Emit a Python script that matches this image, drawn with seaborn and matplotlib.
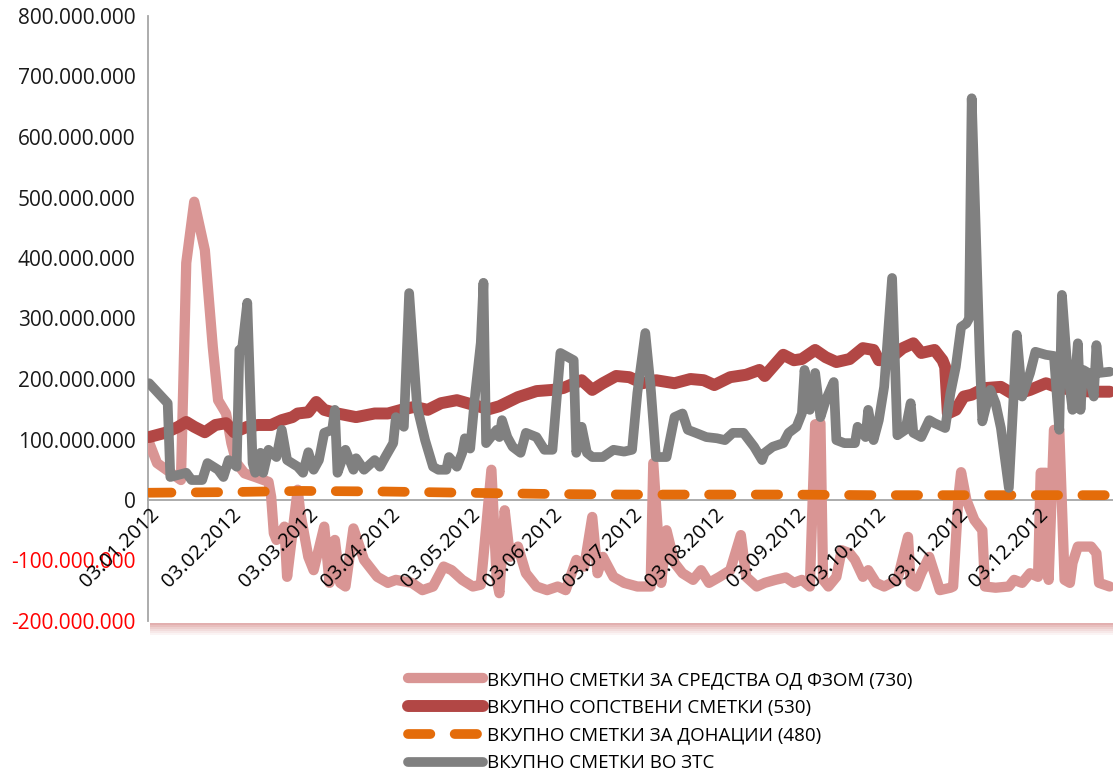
import matplotlib
matplotlib.use("Agg")
import matplotlib.pyplot as plt
from matplotlib.ticker import FuncFormatter, FixedLocator
from matplotlib.patches import Rectangle
import seaborn as sns
import pandas as pd

# ---------------- data (values in millions of denars) ----------------
fzom_dates = ["01-03","01-06","01-15","01-17","01-20","01-24","01-27","01-29","02-01","02-03",
              "02-05","02-08","02-12","02-17","02-18","02-19","02-20","02-23","02-24","02-28",
              "02-29","03-03","03-05","03-09","03-11","03-13","03-15","03-17","03-20","03-24",
              "03-29","04-02","04-05","04-11","04-15","04-19","04-23","04-26","04-30","05-04",
              "05-07","05-08","05-11","05-13","05-14","05-16","05-18","05-21","05-24","05-28",
              "06-01","06-05","06-08","06-12","06-15","06-18","06-20","06-22","06-26","06-30",
              "07-05","07-08","07-10","07-11","07-14","07-16","07-19","07-22","07-26","07-29",
              "08-01","08-05","08-09","08-13","08-15","08-19","08-22","08-26","08-30","09-02",
              "09-05","09-08","09-10","09-12","09-13","09-15","09-18","09-20","09-23","09-25",
              "09-28","09-30","10-03","10-06","10-11","10-15","10-16","10-18","10-20","10-23",
              "10-27","10-31","11-01","11-03","11-04","11-06","11-09","11-12","11-13","11-17",
              "11-22","11-24","11-27","11-30","12-03","12-04","12-06","12-07","12-09","12-11",
              "12-13","12-15","12-16","12-18","12-23","12-25","12-26","12-30"]
fzom_values = [95, 61, 33, 392, 493, 413, 253, 165, 143, 94,
               61, 44, 38, 30, 5, -55, -66, -44, -127, 17,
               -22, -94, -116, -44, -137, -66, -137, -143, -47, -99,
               -127, -137, -132, -137, -149, -143, -110, -116, -132, -143,
               -140, -94, 50, -132, -154, -17, -94, -77, -121, -143,
               -149, -143, -149, -99, -110, -28, -121, -94, -127, -137,
               -143, -143, -143, 61, -137, -50, -104, -121, -132, -116,
               -137, -127, -116, -58, -127, -143, -137, -132, -128, -137,
               -132, -143, 125, 127, -132, -143, -127, -83, -88, -99,
               -127, -116, -137, -143, -132, -61, -137, -143, -121, -94,
               -149, -145, -143, 5, 46, 0, -33, -50, -143, -145,
               -143, -132, -137, -121, -127, 45, 45, -132, 116, 116,
               -132, -137, -104, -77, -77, -88, -137, -143]

own_dates = ["01-03","01-09","01-14","01-17","01-20","01-24","01-28","02-01","02-04","02-09",
             "02-13","02-18","02-22","02-26","02-28","03-03","03-06","03-09","03-14","03-21",
             "03-28","04-02","04-07","04-12","04-17","04-22","04-28","05-02","05-06","05-10",
             "05-14","05-21","05-28","06-03","06-07","06-14","06-18","06-22","06-27","07-02",
             "07-07","07-12","07-19","07-25","07-30","08-03","08-09","08-15","08-20","08-22",
             "08-29","09-02","09-05","09-10","09-14","09-18","09-23","09-28","10-02","10-04",
             "10-08","10-13","10-17","10-20","10-25","10-28","10-29","10-30","11-02","11-05",
             "11-08","11-13","11-19","11-24","11-30","12-06","12-11","12-17","12-23","12-30"]
own_values = [104, 111, 121, 129, 121, 112, 124, 127, 112, 121,
              124, 124, 132, 137, 143, 145, 162, 149, 143, 137,
              143, 143, 149, 154, 149, 160, 165, 160, 155, 150,
              155, 170, 180, 182, 185, 198, 182, 193, 205, 203,
              193, 198, 193, 200, 198, 190, 203, 207, 215, 205,
              240, 231, 233, 248, 236, 228, 233, 251, 248, 231,
              233, 251, 259, 243, 248, 231, 220, 143, 149, 171,
              174, 185, 187, 174, 182, 193, 185, 182, 179, 179]

don_dates = ["01-03","02-01","03-01","04-01","05-01","06-01","07-01","08-01","09-01",
             "10-01","11-01","12-01","12-30"]
don_values = [12, 13, 15, 14, 12, 10, 9, 9, 9, 8, 8, 8, 8]

zts_dates = ["01-03","01-10","01-11","01-17","01-19","01-23","01-25","01-29","01-31","02-02",
             "02-05","02-06","02-07","02-09","02-11","02-12","02-14","02-15","02-17","02-20",
             "02-22","02-24","02-28","03-01","03-03","03-05","03-07","03-09","03-12","03-13",
             "03-14","03-17","03-20","03-21","03-24","03-28","03-30","04-01","04-04","04-05",
             "04-08","04-10","04-13","04-16","04-19","04-21","04-24","04-25","04-28","04-30",
             "05-01","05-03","05-05","05-07","05-08","05-09","05-13","05-14","05-15","05-17",
             "05-19","05-22","05-24","05-28","05-31","06-03","06-06","06-11","06-12","06-14",
             "06-16","06-18","06-22","06-26","06-30","07-03","07-05","07-08","07-10","07-12",
             "07-16","07-19","07-22","07-24","07-27","07-31","08-04","08-07","08-10","08-14",
             "08-18","08-21","08-22","08-25","08-29","08-31","09-03","09-05","09-06","09-08",
             "09-10","09-12","09-14","09-17","09-18","09-21","09-25","09-26","09-29","09-30",
             "10-02","10-04","10-06","10-09","10-11","10-14","10-16","10-17","10-20","10-23",
             "10-25","10-29","10-31","11-02","11-04","11-06","11-07","11-08","11-11","11-12",
             "11-15","11-17","11-19","11-22","11-25","11-27","11-30","12-02","12-06","12-09",
             "12-11","12-12","12-14","12-16","12-18","12-19","12-20","12-22","12-24","12-25",
             "12-26","12-30"]
zts_values = [193, 160, 38, 45, 33, 33, 61, 50, 38, 66,
              55, 248, 248, 326, 61, 45, 78, 45, 83, 71,
              116, 66, 55, 45, 79, 50, 66, 111, 116, 149,
              45, 83, 50, 69, 50, 66, 55, 71, 94, 137,
              121, 342, 154, 99, 55, 50, 50, 71, 55, 78,
              102, 85, 180, 260, 359, 94, 116, 104, 132, 104,
              88, 78, 111, 104, 83, 83, 243, 231, 78, 121,
              78, 71, 71, 83, 80, 83, 177, 276, 187, 71,
              71, 137, 143, 116, 111, 104, 102, 99, 111, 111,
              88, 66, 78, 88, 94, 111, 121, 143, 215, 149,
              210, 137, 165, 195, 99, 94, 94, 121, 104, 149,
              99, 132, 187, 367, 107, 116, 160, 111, 104, 132,
              127, 119, 177, 220, 286, 292, 300, 664, 240, 130,
              182, 160, 119, 20, 273, 171, 210, 245, 240, 238,
              116, 339, 220, 149, 259, 149, 215, 210, 171, 256,
              210, 212]

labels = ["ВКУПНО СМЕТКИ ЗА СРЕДСТВА ОД ФЗОМ (730)",
          "ВКУПНО СОПСТВЕНИ СМЕТКИ (530)",
          "ВКУПНО СМЕТКИ ЗА ДОНАЦИИ (480)",
          "ВКУПНО СМЕТКИ ВО ЗТС"]
colors = ["#D99594", "#B24745", "#E46C0A", "#808080"]
y_ticks = [-200, -100, 0, 100, 200, 300, 400, 500, 600, 700, 800]
x_tick_dates = ["01-03", "02-03", "03-03", "04-03", "05-03", "06-03", "07-03",
                "08-03", "09-03", "10-03", "11-03", "12-03"]

def to_dt(lst):
    return pd.to_datetime(["2012-" + d for d in lst])

# ---------------- figure ----------------
sns.set_theme(style="white")
plt.rcParams["font.family"] = ["Open Sans", "DejaVu Sans"]

W, H = 1113, 778
fig = plt.figure(figsize=(W / 100, H / 100), dpi=100)
ax = fig.add_axes([148 / W, 1 - 621 / H, (W - 148) / W, (621 - 16) / H])
ax.set_facecolor("white")

# plot-area shadow (bottom pinkish band)
for i, a in enumerate([0.75, 0.6, 0.45, 0.32, 0.2, 0.1]):
    fig.patches.append(Rectangle((150 / W, 1 - (623 + 2 * i + 2) / H), (W - 150) / W, 2 / H,
                                 transform=fig.transFigure, facecolor="#D99594",
                                 edgecolor="none", alpha=a, zorder=0))

series = [
    (fzom_dates, fzom_values, colors[0], 7.4, "-", labels[0]),
    (own_dates, own_values, colors[1], 8.6, "-", labels[1]),
    (don_dates, don_values, colors[2], 7.0, "--", labels[2]),
    (zts_dates, zts_values, colors[3], 7.0, "-", labels[3]),
]
for z, (d, v, c, lw, ls, lab) in enumerate(series):
    df = pd.DataFrame({"date": to_dt(d), "value": v})
    kw = dict(solid_joinstyle="round", solid_capstyle="round")
    if ls == "--":
        kw = dict(dashes=(2.3, 2.5), dash_capstyle="round")
    sns.lineplot(data=df, x="date", y="value", ax=ax, color=c, lw=lw,
                 label=lab, zorder=3 + z, sort=False, estimator=None, **kw)

ax.set_xlim(pd.Timestamp("2012-01-02 14:00"), pd.Timestamp("2012-12-31 06:00"))
ax.set_ylim(-200, 800)

# axes look
for s in ["top", "right"]:
    ax.spines[s].set_visible(False)
ax.spines["left"].set_color("#A6A6A6")
ax.spines["left"].set_linewidth(1.3)
ax.spines["bottom"].set_position(("data", 0))
ax.spines["bottom"].set_color("#A6A6A6")
ax.spines["bottom"].set_linewidth(1.3)
ax.spines["bottom"].set_zorder(2)

ax.yaxis.set_major_locator(FixedLocator(y_ticks))
ax.yaxis.set_major_formatter(FuncFormatter(lambda v, p: f"{v * 1e6:,.0f}".replace(",", ".")))
ax.tick_params(axis="y", length=0, pad=9, labelsize=15, labelcolor="#1a1a1a")

xt = to_dt(x_tick_dates)
ax.set_xticks(xt)
ax.set_xticklabels([t.strftime("%d.%m.%Y") for t in xt])
ax.tick_params(axis="x", length=0, pad=3, labelsize=14.5, labelcolor="black")
for lbl in ax.get_xticklabels():
    lbl.set_rotation(45)
    lbl.set_ha("right")
    lbl.set_va("top")
    lbl.set_rotation_mode("anchor")
ax.xaxis.set_zorder(20)

ax.set_xlabel("")
ax.set_ylabel("")
ax.grid(False)

fig.canvas.draw()
for lbl, v in zip(ax.get_yticklabels(), y_ticks):
    if v < 0:
        lbl.set_color("#FF0000")

handles, labs = ax.get_legend_handles_labels()
ax.get_legend().remove()
leg = fig.legend(handles, labs, loc="upper left",
                 bbox_to_anchor=(408 / W, 1 - 671 / H), frameon=False,
                 fontsize=13.5, handlelength=4.0, handletextpad=0.2,
                 labelspacing=0.52, borderpad=0, borderaxespad=0)
for t in leg.get_texts():
    t.set_color("black")

fig.savefig("out.png", dpi=100)
